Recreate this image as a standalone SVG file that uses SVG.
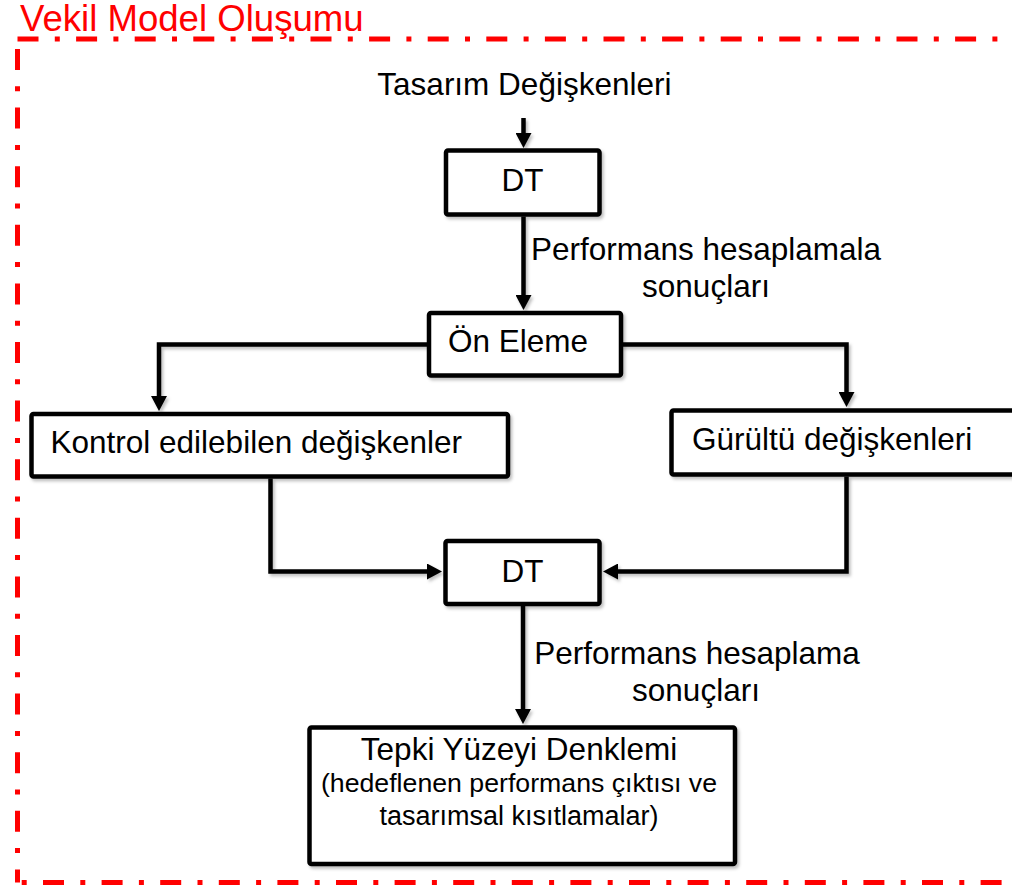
<svg xmlns="http://www.w3.org/2000/svg" width="1012" height="886" viewBox="0 0 1012 886">
  <defs>
    <filter id="sh" x="-10%" y="-10%" width="130%" height="130%">
      <feDropShadow dx="2" dy="2.5" stdDeviation="1.5" flood-color="#000" flood-opacity="0.25"/>
    </filter>
    <marker id="ah" markerUnits="userSpaceOnUse" markerWidth="16" markerHeight="16" refX="1" refY="8" orient="auto">
      <path d="M0,0 L15,8 L0,16 Z" fill="#000"/>
    </marker>
  </defs>
  <style>
    .box { fill: #fff; stroke: #000; stroke-width: 4.5; }
    .t { font-family: "Liberation Sans", Arial, sans-serif; font-size: 31.5px; fill: #000; }
    .tc { text-anchor: middle; }
    .conn { fill: none; stroke: #000; stroke-width: 4.5; stroke-linejoin: miter; marker-end: url(#ah); }
    .frame { fill: none; stroke: #ff0000; stroke-width: 5; stroke-dasharray: 21 16.3 5 16.3; }
  </style>
  <rect width="1012" height="886" fill="#fff"/>

  <g id="frame">
    <line class="frame" x1="17.5" y1="39" x2="1030" y2="39"/>
    <line class="frame" x1="17.5" y1="39" x2="17.5" y2="882.5" stroke-dashoffset="-10"/>
    <line class="frame" x1="17.5" y1="882.5" x2="1030" y2="882.5" stroke-dashoffset="33.1"/>
    <text x="20" y="31" font-family="Liberation Sans, Arial, sans-serif" font-size="36.6" fill="#ff0000">Vekil Model Oluşumu</text>
  </g>

  <g id="connectors" filter="url(#sh)">
    <path class="conn" d="M523.5,118 V134"/>
    <path class="conn" d="M523.5,216.5 V296"/>
    <path class="conn" d="M427,344.5 H159 V397"/>
    <path class="conn" d="M621,344.5 H846.5 V393"/>
    <path class="conn" d="M270.5,478.5 V571.5 H428"/>
    <path class="conn" d="M846.5,476.5 V571.5 H617"/>
    <path class="conn" d="M523,605 V710"/>
  </g>

  <g id="input">
    <text class="t tc" x="524.4" y="95">Tasarım Değişkenleri</text>
  </g>

  <g id="dt1">
    <rect class="box" x="446" y="150.5" width="153.5" height="64" rx="2" filter="url(#sh)"/>
    <text class="t tc" x="522.5" y="191">DT</text>
  </g>

  <g id="label1">
    <text class="t tc" x="706" y="260">Performans hesaplamala</text>
    <text class="t tc" x="706" y="297">sonuçları</text>
  </g>

  <g id="on-eleme">
    <rect class="box" x="429" y="313" width="192" height="62.5" rx="2" filter="url(#sh)"/>
    <text class="t" x="448" y="352">Ön Eleme</text>
  </g>

  <g id="kontrol">
    <rect class="box" x="31.5" y="414" width="476.5" height="62.5" rx="2" filter="url(#sh)"/>
    <text class="t" x="50.5" y="453">Kontrol edilebilen değişkenler</text>
  </g>

  <g id="gurultu">
    <rect class="box" x="671.5" y="410.5" width="370" height="64" rx="2" filter="url(#sh)"/>
    <text class="t" x="692" y="450">Gürültü değişkenleri</text>
  </g>

  <g id="dt2">
    <rect class="box" x="445.5" y="541" width="154" height="63" rx="2" filter="url(#sh)"/>
    <text class="t tc" x="522.5" y="582">DT</text>
  </g>

  <g id="label2">
    <text class="t tc" x="697" y="664">Performans hesaplama</text>
    <text class="t tc" x="696" y="701">sonuçları</text>
  </g>

  <g id="tepki">
    <rect class="box" x="309.5" y="727.5" width="425.5" height="136.5" rx="2" filter="url(#sh)"/>
    <text class="t tc" x="519" y="760">Tepki Yüzeyi Denklemi</text>
    <text class="t tc" x="519" y="792" style="font-size:26.7px">(hedeflenen performans çıktısı ve</text>
    <text class="t tc" x="519" y="825" style="font-size:27px">tasarımsal kısıtlamalar)</text>
  </g>
</svg>
